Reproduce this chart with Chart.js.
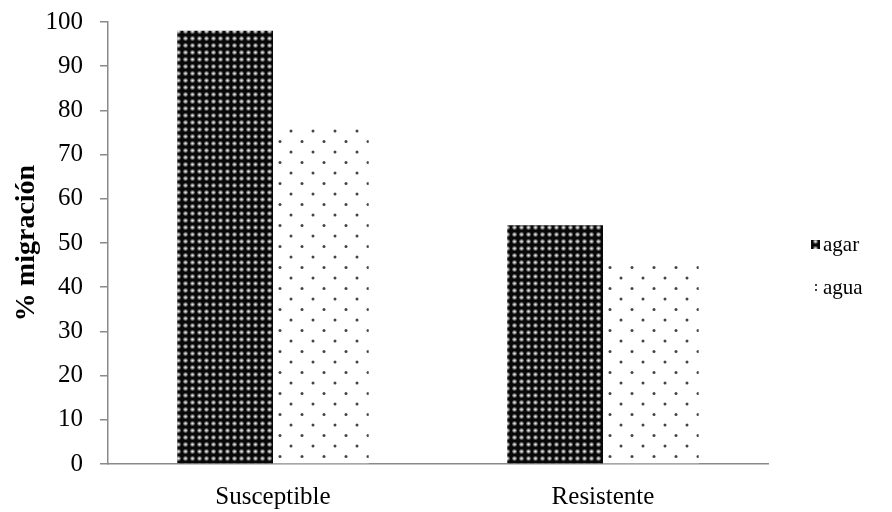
<!DOCTYPE html>
<html>
<head>
<meta charset="utf-8">
<script src="https://cdn.jsdelivr.net/npm/chart.js@4.4.1/dist/chart.umd.min.js"></script>
<style>
  html, body { margin: 0; padding: 0; background: #ffffff; }
  #wrap { width: 892px; height: 512px; position: relative; }
</style>
</head>
<body>
<div id="wrap"><canvas id="c" width="892" height="512"></canvas></div>
<script>
// Data
const categories = ['Susceptible', 'Resistente'];
const seriesNames = ['agar', 'agua'];
const agarValues = [98, 54];
const aguaValues = [77, 45];
const yTicks = [0, 10, 20, 30, 40, 50, 60, 70, 80, 90, 100];

const FONT = '"Liberation Serif", "Times New Roman", serif';

// Fill patterns for the bars
function makeAgarPattern() {
  const n = 7;
  const t = document.createElement('canvas');
  t.width = n; t.height = n;
  const g = t.getContext('2d');
  g.fillStyle = '#080808';
  g.fillRect(0, 0, n, n);
  g.fillStyle = '#7a7a7a';
  g.beginPath(); g.arc(3.5, 3.5, 2.3, 0, Math.PI * 2); g.fill();
  g.fillStyle = '#e8e8e8';
  g.beginPath(); g.arc(3.5, 3.5, 1.1, 0, Math.PI * 2); g.fill();
  return t;
}
function makeAguaPattern() {
  const t = document.createElement('canvas');
  t.width = 22; t.height = 21;
  const g = t.getContext('2d');
  g.fillStyle = '#ffffff';
  g.fillRect(0, 0, 22, 21);
  g.fillStyle = '#444444';
  g.beginPath(); g.arc(5, 5, 1.5, 0, Math.PI * 2); g.fill();
  g.beginPath(); g.arc(16, 15.5, 1.5, 0, Math.PI * 2); g.fill();
  return t;
}
const ctx = document.getElementById('c').getContext('2d');
const agarPattern = ctx.createPattern(makeAgarPattern(), 'repeat');
const aguaPattern = ctx.createPattern(makeAguaPattern(), 'repeat');

// Legend drawn on the right side, one row per series
const sideLegend = {
  id: 'sideLegend',
  afterDraw(chart) {
    const c = chart.ctx;
    const rows = [245, 288];
    c.save();
    chart.data.datasets.forEach((ds, i) => {
      const y = rows[i];
      if (i === 0) {
        c.fillStyle = ds.backgroundColor;
        c.fillRect(811, y - 5, 9, 9);
      } else {
        c.fillStyle = '#444444';
        c.fillRect(815, y - 4, 2, 2);
        c.fillRect(815, y + 1, 2, 2);
      }
      c.fillStyle = '#000';
      c.font = '21px ' + FONT;
      c.textBaseline = 'middle';
      c.textAlign = 'left';
      c.fillText(ds.label, 823, y);
    });
    c.restore();
  }
};

new Chart(ctx, {
  type: 'bar',
  data: {
    labels: categories,
    datasets: [
      { label: seriesNames[0], data: agarValues, backgroundColor: agarPattern, borderWidth: 0 },
      { label: seriesNames[1], data: aguaValues, backgroundColor: aguaPattern, borderWidth: 0 }
    ]
  },
  options: {
    responsive: false,
    animation: false,
    devicePixelRatio: 1,
    layout: { padding: { top: 22, right: 124, bottom: 0, left: 0 } },
    plugins: {
      legend: { display: false },
      tooltip: { enabled: false }
    },
    datasets: { bar: { categoryPercentage: 0.58, barPercentage: 1.0 } },
    scales: {
      x: {
        grid: { display: false },
        border: { display: true, color: '#8a8a8a', width: 1.5 },
        ticks: { color: '#000', font: { family: FONT, size: 25 }, padding: 10 },
        afterFit(s) { s.height = 48; s.paddingLeft = 0; s.paddingRight = 0; }
      },
      y: {
        min: 0, max: 100,
        afterBuildTicks(s) { s.ticks = yTicks.map(v => ({ value: v })); },
        grid: { drawOnChartArea: false, drawTicks: true, tickLength: 8, color: '#8a8a8a', lineWidth: 1.5 },
        border: { display: true, color: '#8a8a8a', width: 1.5 },
        ticks: { color: '#000', font: { family: FONT, size: 25 }, padding: 17 },
        title: {
          display: true,
          text: '% migración',
          color: '#000',
          font: { family: FONT, size: 28, weight: 'bold' },
          padding: { top: 10, bottom: 0 }
        },
        afterFit(s) { s.width = 108; s.paddingTop = 0; s.paddingBottom = 0; }
      }
    }
  },
  plugins: [sideLegend]
});
</script>
</body>
</html>
